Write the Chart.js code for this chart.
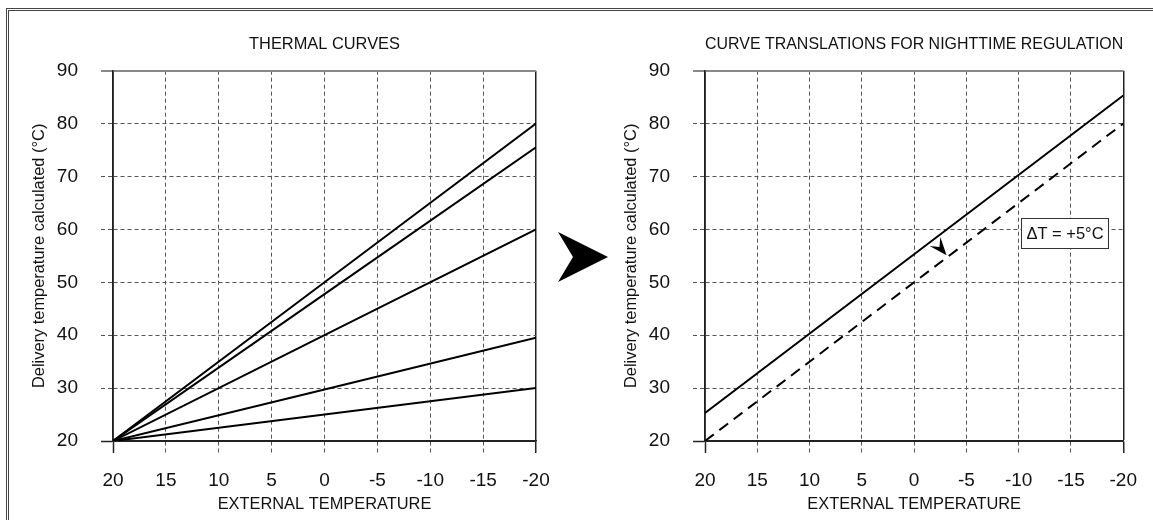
<!DOCTYPE html>
<html>
<head>
<meta charset="utf-8">
<title>Thermal curves</title>
<script src="https://cdn.jsdelivr.net/npm/chart.js@4.4.0/dist/chart.umd.min.js"></script>
<style>
  body { margin: 0; background: #fff; width: 1153px; height: 520px; overflow: hidden; position: relative; }
  canvas { position: absolute; left: 0; top: 0; }
  #frame { position: absolute; left: 6px; top: 8px; width: 1200px; height: 600px;
           border-left: 3px double #444; border-top: 3px double #444; }
</style>
</head>
<body>
<div id="frame"></div>
<canvas id="leftChart" width="1153" height="520"></canvas>
<canvas id="rightChart" width="1153" height="520"></canvas>
<script>
// external temperature where the curves are read
var extTemps = [20, 0, -20];
// thermal curves (delivery temperature)
var curve1 = [20, 50, 80];
var curve2 = [20, 47.75, 75.5];
var curve3 = [20, 40, 60];
var curve4 = [20, 29.75, 39.5];
var curve5 = [20, 25, 30];
// nighttime translation
var dayCurve = [25.3, 55.3, 85.3];
var nightCurve = [20, 50, 80];
// ticks
var xTicks = [20, 15, 10, 5, 0, -5, -10, -15, -20];
var yTicks = [20, 30, 40, 50, 60, 70, 80, 90];
// note on right chart
var deltaLabel = 'ΔT = +5°C';
var deltaPos = { x: -14.4, y: 59.4 };
var arrowTip = { x: -3.1, y: 55.1 };

var FONT = "'Liberation Sans', Arial, Helvetica, sans-serif";
Chart.defaults.font.family = FONT;
Chart.defaults.color = '#111';

function toPoints(ys) {
  return extTemps.map(function (t, i) { return { x: t, y: ys[i] }; });
}

function lineSet(ys, dash) {
  return {
    data: toPoints(ys),
    borderColor: '#000',
    borderWidth: 2,
    borderDash: dash || [],
    pointRadius: 0,
    fill: false,
    tension: 0
  };
}

function isEdgeX(c) { return c.tick && (c.tick.value === -20 || c.tick.value === 20); }
function isEdgeY(c) { return c.tick && (c.tick.value === 90 || c.tick.value === 20); }

function makeOptions(title, padLeft, padRight) {
  return {
    responsive: false,
    animation: false,
    layout: { padding: { left: padLeft, right: padRight, top: 35, bottom: 0 } },
    plugins: {
      legend: { display: false },
      tooltip: { enabled: false },
      title: {
        display: true, text: title, fullSize: false, color: '#111',
        font: { size: 16.4, weight: 'normal' },
        padding: { top: 0, bottom: 16 }
      }
    },
    scales: {
      x: {
        type: 'linear', reverse: true, min: -20, max: 20,
        afterBuildTicks: function (axis) { axis.ticks = xTicks.map(function (v) { return { value: v }; }); },
        afterFit: function (axis) { axis.height = 79; },
        grid: {
          tickLength: 12,
          color: function (c) { return c.tick && c.tick.value === -20 ? '#222' : '#555'; },
          lineWidth: function (c) { return c.tick && c.tick.value === -20 ? 1.5 : 1; },
          tickColor: function (c) { return isEdgeX(c) ? '#222' : '#555'; },
          tickWidth: function (c) { return isEdgeX(c) ? 1.5 : 1; },
          tickBorderDash: function (c) { return isEdgeX(c) ? [] : [4, 3]; }
        },
        border: {
          display: true, color: '#222', width: 1.5,
          dash: function (c) { return isEdgeX(c) ? [] : [4, 3]; }
        },
        ticks: { font: { size: 19 }, padding: 16, color: '#111', maxRotation: 0 },
        title: { display: true, text: 'EXTERNAL TEMPERATURE', font: { size: 16.4 }, color: '#111', padding: { top: 0, bottom: 6 } }
      },
      y: {
        type: 'linear', min: 20, max: 90,
        afterBuildTicks: function (axis) { axis.ticks = yTicks.map(function (v) { return { value: v }; }); },
        afterFit: function (axis) { axis.width = 93; },
        grid: {
          tickLength: 12,
          color: function (c) { return c.tick && c.tick.value === 90 ? '#888' : (c.tick && c.tick.value === 20 ? '#222' : '#555'); },
          lineWidth: function (c) { return c.tick && c.tick.value === 90 ? 2 : 1; },
          tickColor: function (c) { return c.tick && c.tick.value === 90 ? '#888' : (c.tick && c.tick.value === 20 ? '#222' : '#555'); },
          tickWidth: function (c) { return c.tick && c.tick.value === 90 ? 2 : (c.tick && c.tick.value === 20 ? 1.5 : 1); },
          tickBorderDash: function (c) { return isEdgeY(c) ? [] : [4, 3]; }
        },
        border: {
          display: true, color: '#222', width: 1.5,
          dash: function (c) { return isEdgeY(c) ? [] : [4, 3]; }
        },
        ticks: { font: { size: 19 }, padding: 23, color: '#111' },
        title: { display: true, text: 'Delivery temperature calculated (°C)', font: { size: 16.4 }, color: '#111', padding: { top: 10, bottom: 0 } }
      }
    }
  };
}

// big arrow between the two panels (decoration)
var bigArrow = {
  id: 'bigArrow',
  afterDraw: function (chart) {
    var ctx = chart.ctx;
    ctx.save();
    ctx.fillStyle = '#000';
    ctx.beginPath();
    ctx.moveTo(608, 257);
    ctx.lineTo(558, 232);
    ctx.lineTo(573, 257);
    ctx.lineTo(558, 282);
    ctx.closePath();
    ctx.fill();
    ctx.restore();
  }
};

var deltaNote = {
  id: 'deltaNote',
  afterDatasetsDraw: function (chart) {
    var ctx = chart.ctx, xs = chart.scales.x, ys = chart.scales.y;
    var cx = xs.getPixelForValue(deltaPos.x), cy = ys.getPixelForValue(deltaPos.y);
    ctx.save();
    ctx.font = '16.5px ' + FONT;
    var w = Math.round(ctx.measureText(deltaLabel).width + 10), h = 30;
    var bx = Math.round(cx - w / 2), by = Math.round(cy - h / 2);
    ctx.fillStyle = '#fff';
    ctx.fillRect(bx, by, w, h);
    ctx.strokeStyle = '#333';
    ctx.lineWidth = 1;
    ctx.strokeRect(bx + 0.5, by + 0.5, w, h);
    ctx.fillStyle = '#111';
    ctx.textAlign = 'center';
    ctx.textBaseline = 'middle';
    ctx.fillText(deltaLabel, bx + w / 2 + 0.5, by + h / 2 + 1);
    // small arrowhead from the day curve to the night curve
    var tx = xs.getPixelForValue(arrowTip.x), ty = ys.getPixelForValue(arrowTip.y);
    ctx.translate(tx, ty);
    ctx.rotate(50 * Math.PI / 180);
    ctx.beginPath();
    ctx.moveTo(0, 0);
    ctx.lineTo(-18, -7);
    ctx.lineTo(-11, 0);
    ctx.lineTo(-18, 7);
    ctx.closePath();
    ctx.fillStyle = '#000';
    ctx.fill();
    ctx.restore();
  }
};

var leftChart = new Chart(document.getElementById('leftChart').getContext('2d'), {
  type: 'line',
  data: { datasets: [lineSet(curve1), lineSet(curve2), lineSet(curve3), lineSet(curve4), lineSet(curve5)] },
  options: makeOptions('THERMAL CURVES', 20, 617),
  plugins: [bigArrow]
});

var rightChart = new Chart(document.getElementById('rightChart').getContext('2d'), {
  type: 'line',
  data: { datasets: [lineSet(dayCurve), lineSet(nightCurve, [11, 7])] },
  options: makeOptions('CURVE TRANSLATIONS FOR NIGHTTIME REGULATION', 612, 25),
  plugins: [deltaNote]
});
</script>
</body>
</html>
